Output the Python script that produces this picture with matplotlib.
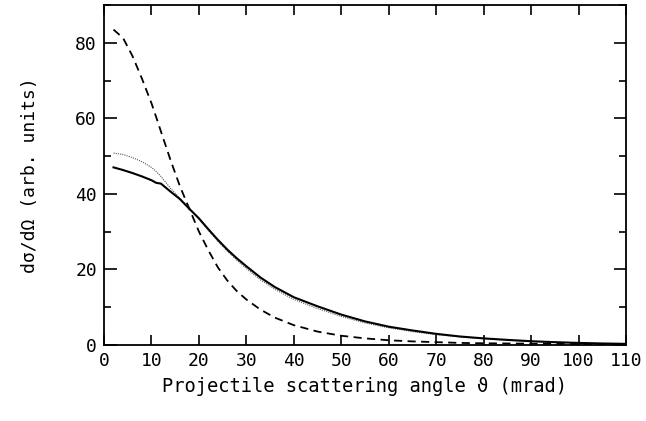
import numpy as np
import matplotlib
matplotlib.use("Agg")
import matplotlib.pyplot as plt
from matplotlib.ticker import MultipleLocator

plt.rcParams['font.family'] = ['DejaVu Sans Mono', 'DejaVu Sans']

# scattering angle (mrad)
angle = [2, 4, 6, 8, 10, 11, 12, 14, 16, 18, 20, 22, 24, 26, 28, 30, 33, 36, 40,
         45, 50, 55, 60, 65, 70, 75, 80, 85, 90, 95, 100, 105, 110]

# dashed curve
dashed = [83.5, 81.3, 76.5, 70.5, 64.0, 60.3, 56.5, 49.0, 42.0, 36.0, 30.0, 25.0,
          20.5, 17.0, 14.2, 12.0, 9.3, 7.2, 5.2, 3.5, 2.4, 1.7, 1.2, 0.9, 0.7,
          0.5, 0.4, 0.35, 0.3, 0.25, 0.2, 0.17, 0.15]

# solid curve
solid = [47.0, 46.3, 45.5, 44.6, 43.6, 42.9, 42.7, 40.6, 38.6, 36.0, 33.5, 30.6,
         27.8, 25.2, 22.9, 20.8, 17.8, 15.3, 12.6, 10.2, 8.0, 6.2, 4.8, 3.8, 2.9,
         2.2, 1.7, 1.3, 0.95, 0.7, 0.5, 0.35, 0.25]

# dotted curve
dotted = [50.8, 50.4, 49.6, 48.5, 47.0, 45.9, 44.6, 41.5, 38.8, 36.1, 33.3, 30.3,
          27.4, 24.8, 22.4, 20.2, 17.2, 14.7, 12.0, 9.6, 7.5, 5.8, 4.5, 3.5, 2.7,
          2.1, 1.6, 1.2, 0.9, 0.65, 0.45, 0.3, 0.2]

fig = plt.figure(figsize=(6.46, 4.21), dpi=100)
ax = fig.add_axes([0.161, 0.181, 0.808, 0.807])

ax.plot(angle, dashed, color='black', lw=1.3, linestyle=(0, (4.5, 3)))
ax.plot(angle, dotted, color='0.35', lw=0.8, linestyle=(0, (1, 1)))
ax.plot(angle, solid, color='black', lw=1.5)

ax.set_xlim(0, 110)
ax.set_ylim(0, 90)
ax.xaxis.set_major_locator(MultipleLocator(10))
ax.yaxis.set_major_locator(MultipleLocator(20))
ax.yaxis.set_minor_locator(MultipleLocator(10))
ax.tick_params(which='both', direction='in', top=True, right=True,
               labelsize=13, width=1.2, pad=5)
ax.tick_params(axis='x', which='major', length=7)
ax.tick_params(axis='y', which='major', length=9)
ax.tick_params(axis='y', which='minor', length=5, width=1.2)
for s in ax.spines.values():
    s.set_linewidth(1.3)

ax.set_xlabel('Projectile scattering angle ϑ (mrad)', fontsize=13.5, labelpad=5)
ax.set_ylabel('dσ/dΩ (arb. units)', fontsize=13, labelpad=26)

fig.savefig('out.png', dpi=100)
